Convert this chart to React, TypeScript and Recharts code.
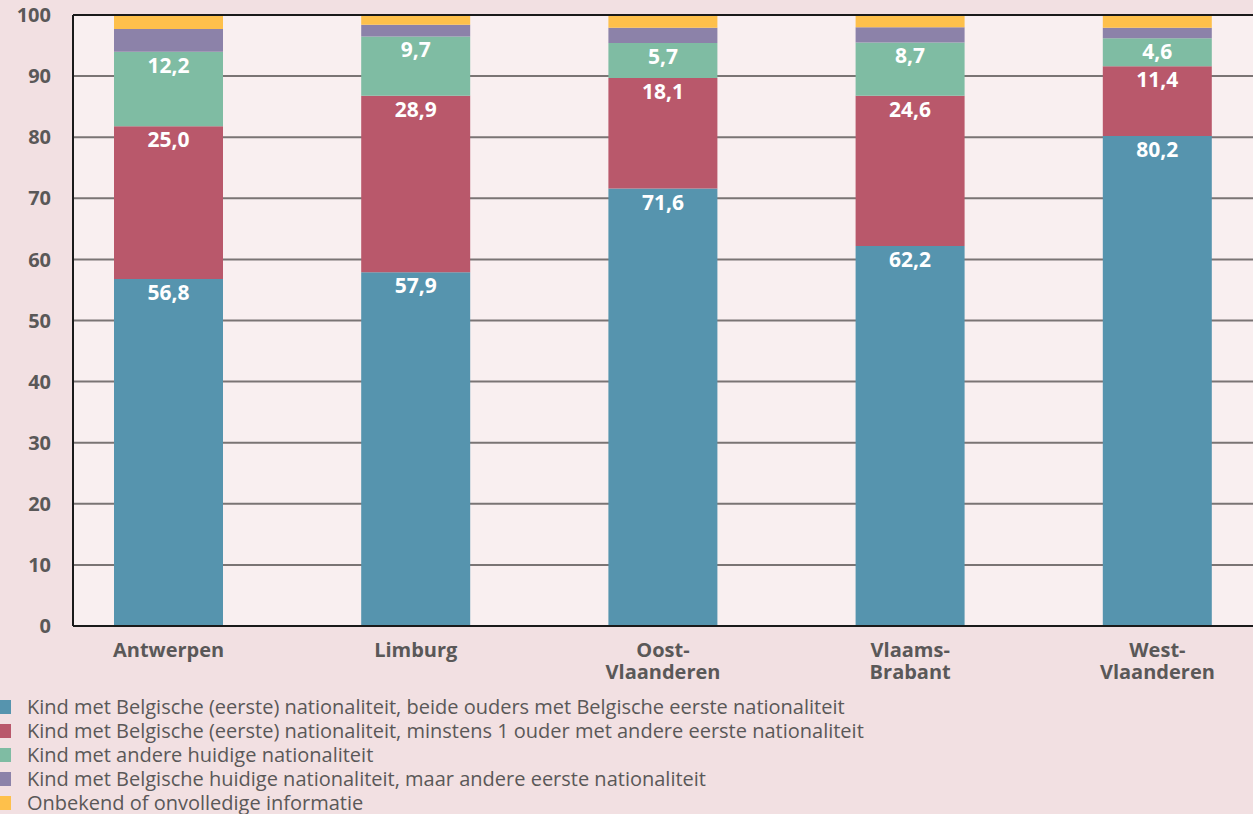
import { BarChart, Bar, XAxis, YAxis, CartesianGrid, ReferenceLine, LabelList } from 'recharts'

const provinces = ['Antwerpen', 'Limburg', 'Oost-Vlaanderen', 'Vlaams-Brabant', 'West-Vlaanderen']
const belgBeide = [56.8, 57.9, 71.6, 62.2, 80.2]
const belgMinstens1 = [25.0, 28.9, 18.1, 24.6, 11.4]
const andereHuidig = [12.2, 9.7, 5.7, 8.7, 4.6]
const belgHuidigAndereEerste = [3.7, 1.9, 2.5, 2.5, 1.7]
const onbekend = [2.3, 1.6, 2.1, 2.0, 2.1]
const yTicks = [0, 10, 20, 30, 40, 50, 60, 70, 80, 90, 100]

const series = [
  { key: 'beide', label: 'Kind met Belgische (eerste) nationaliteit, beide ouders met Belgische eerste nationaliteit', color: '#5694ae', values: belgBeide, showLabel: true },
  { key: 'minstens', label: 'Kind met Belgische (eerste) nationaliteit, minstens 1 ouder met andere eerste nationaliteit', color: '#b9586b', values: belgMinstens1, showLabel: true },
  { key: 'andere', label: 'Kind met andere huidige nationaliteit', color: '#7fbca3', values: andereHuidig, showLabel: true },
  { key: 'huidig', label: 'Kind met Belgische huidige nationaliteit, maar andere eerste nationaliteit', color: '#8c82a9', values: belgHuidigAndereEerste, showLabel: false },
  { key: 'onbekend', label: 'Onbekend of onvolledige informatie', color: '#fec04b', values: onbekend, showLabel: false },
]

const data = provinces.map((p, i) => {
  const row: Record<string, string | number> = { name: p }
  series.forEach((s) => (row[s.key] = s.values[i]))
  return row
})

const FONT = '"Open Sans", "Noto Sans", sans-serif'
const TEXT = '#5a5858'

function XTick({ x, y, payload }: any) {
  const name: string = payload.value
  const idx = name.indexOf('-')
  const lines = idx >= 0 ? [name.slice(0, idx + 1), name.slice(idx + 1)] : [name]
  return (
    <text x={x} y={y + 31} textAnchor="middle" fill={TEXT} fontSize={20} fontWeight="bold" fontFamily={FONT}>
      {lines.map((l, i) => (
        <tspan key={i} x={x} dy={i === 0 ? 0 : 22}>
          {l}
        </tspan>
      ))}
    </text>
  )
}

function SegLabel({ x, y, width, value }: any) {
  return (
    <text x={x + width / 2} y={y + 21} textAnchor="middle" fill="#ffffff" fontSize={21} fontWeight="bold" fontFamily={FONT}>
      {Number(value).toFixed(1).replace('.', ',')}
    </text>
  )
}

export default function App() {
  return (
    <div style={{ position: 'absolute', left: 0, top: 0, width: 1253, height: 814, background: '#f2e0e2', overflow: 'hidden', fontFamily: FONT }}>
      <BarChart width={1253} height={690} data={data} margin={{ top: 15, right: 0, bottom: 0, left: 0 }} barSize={109}>
        <CartesianGrid vertical={false} fill="#f9eff0" stroke="#7a7474" strokeWidth={2} horizontalValues={yTicks} />
        <XAxis
          dataKey="name"
          height={64}
          tickLine={false}
          tickSize={0}
          tickMargin={0}
          axisLine={{ stroke: '#1a1a1a', strokeWidth: 2 }}
          padding={{ left: -28, right: -28 }}
          tick={<XTick />}
          interval={0}
        />
        <YAxis
          type="number"
          domain={[0, 100]}
          ticks={yTicks}
          width={73}
          tickLine={false}
          tickSize={0}
          tickMargin={22}
          axisLine={{ stroke: '#1a1a1a', strokeWidth: 2 }}
          tick={{ fill: TEXT, fontSize: 20, fontWeight: 'bold', fontFamily: FONT }}
        />
        {series.map((s) => (
          <Bar key={s.key} dataKey={s.key} stackId="a" fill={s.color} isAnimationActive={false}>
            {s.showLabel && <LabelList dataKey={s.key} content={<SegLabel />} />}
          </Bar>
        ))}
        <ReferenceLine y={100} stroke="#1a1a1a" strokeWidth={2} />
      </BarChart>
      <div style={{ position: 'absolute', left: 0, top: 695 }}>
        {series.map((s) => (
          <div key={s.key} style={{ display: 'flex', alignItems: 'center', height: 24, lineHeight: '24px', color: TEXT, fontSize: 20, whiteSpace: 'nowrap' }}>
            <span style={{ display: 'inline-block', width: 11, height: 14, background: s.color, marginRight: 16 }} />
            <span>{s.label}</span>
          </div>
        ))}
      </div>
    </div>
  )
}
